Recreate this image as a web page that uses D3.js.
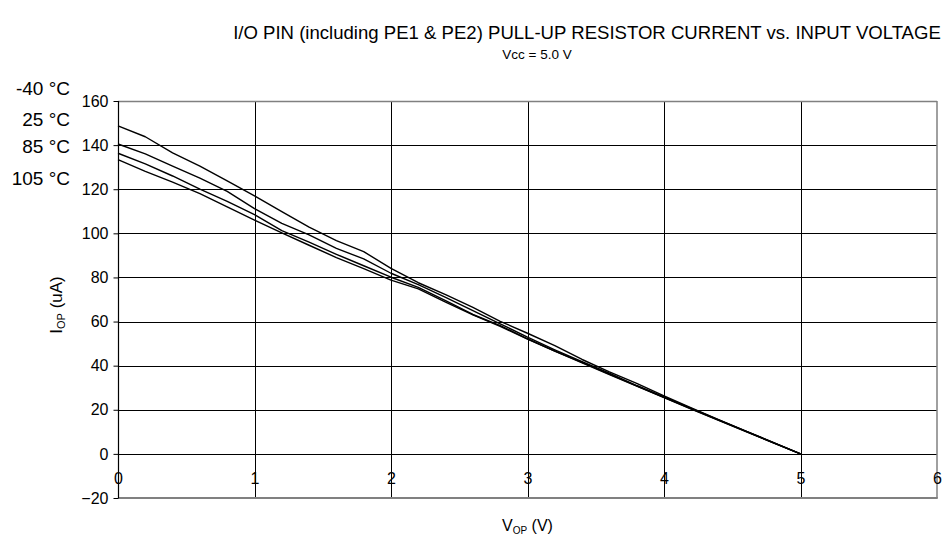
<!DOCTYPE html>
<html>
<head>
<meta charset="utf-8">
<script src="https://cdn.jsdelivr.net/npm/d3@7"></script>
<style>
  html, body { margin: 0; padding: 0; background: #fff; }
  svg { display: block; font-family: "Liberation Sans", Arial, Helvetica, sans-serif; }
</style>
</head>
<body>
<svg id="chart" width="942" height="544"></svg>
<script>
// Input voltage samples (V)
const voltage = [0, 0.2, 0.4, 0.6, 0.8, 1.0, 1.2, 1.4, 1.6, 1.8, 2.0, 2.2, 2.4, 2.6,
                 2.8, 3.0, 3.2, 3.4, 3.6, 3.8, 4.0, 4.2, 4.4, 4.6, 4.8, 5.0];

// Pull-up current (uA) per temperature
const iMinus40 = [148.7, 143.8, 136.5, 130.5, 123.8, 117.0, 109.8, 102.8, 96.7, 91.7, 84.1, 77.6, 72.2,
                  66.4, 60.1, 54.7, 49.1, 42.8, 37.2, 32.0, 26.3, 20.8, 15.5, 10.3, 5.2, 0];
const i25      = [140.5, 136.0, 130.5, 125.0, 119.0, 111.2, 104.5, 99.3, 93.2, 88.4, 81.9, 76.7, 71.0,
                  65.0, 59.0, 52.9, 47.2, 41.8, 36.6, 31.0, 25.8, 20.6, 15.4, 10.3, 5.1, 0];
const i85      = [136.3, 131.5, 126.0, 120.0, 114.5, 108.5, 101.2, 96.0, 90.5, 85.3, 80.1, 75.5, 69.5,
                  63.2, 58.2, 52.2, 46.6, 41.5, 36.2, 30.8, 25.6, 20.4, 15.3, 10.2, 5.1, 0];
const i105     = [133.4, 128.1, 123.2, 118.0, 112.0, 106.0, 100.2, 94.6, 89.0, 84.0, 78.8, 74.8, 68.8,
                  63.0, 57.8, 52.0, 46.6, 41.3, 36.0, 30.7, 25.5, 20.3, 15.2, 10.1, 5.0, 0];

const seriesLabels = ["-40 °C", "25 °C", "85 °C", "105 °C"];
const xTicks = [0, 1, 2, 3, 4, 5, 6];
const yTicks = [-20, 0, 20, 40, 60, 80, 100, 120, 140, 160];

const titleText = "I/O PIN (including PE1 & PE2) PULL-UP RESISTOR CURRENT vs. INPUT VOLTAGE";
const subtitleText = "Vcc = 5.0 V";

const svg = d3.select("#chart");
const plot = { left: 118, top: 101, right: 937, bottom: 498 };

const x = d3.scaleLinear().domain([0, 6]).range([plot.left, plot.right]);
const y = d3.scaleLinear().domain([-20, 160]).range([plot.bottom, plot.top]);

// Horizontal grid
svg.append("g")
  .selectAll("line")
  .data(yTicks.filter(t => t !== -20 && t !== 160))
  .join("line")
  .attr("x1", plot.left).attr("x2", plot.right)
  .attr("y1", d => Math.round(y(d)) + 0.5).attr("y2", d => Math.round(y(d)) + 0.5)
  .attr("stroke", "#000").attr("stroke-width", 1);

// Vertical grid
svg.append("g")
  .selectAll("line")
  .data(xTicks.filter(t => t !== 0 && t !== 6))
  .join("line")
  .attr("x1", d => Math.round(x(d)) + 0.5).attr("x2", d => Math.round(x(d)) + 0.5)
  .attr("y1", plot.top).attr("y2", plot.bottom)
  .attr("stroke", "#000").attr("stroke-width", 1);

// Plot frame: grey top, right and bottom edges, black left axis
svg.append("line")
  .attr("x1", plot.left).attr("x2", plot.right)
  .attr("y1", plot.top + 0.5).attr("y2", plot.top + 0.5)
  .attr("stroke", "#808080").attr("stroke-width", 1.5);
svg.append("line")
  .attr("x1", plot.right).attr("x2", plot.right)
  .attr("y1", plot.top).attr("y2", plot.bottom)
  .attr("stroke", "#808080").attr("stroke-width", 1.5);
svg.append("line")
  .attr("x1", plot.left).attr("x2", plot.right + 0.75)
  .attr("y1", plot.bottom).attr("y2", plot.bottom)
  .attr("stroke", "#808080").attr("stroke-width", 2);

// Left axis with ticks
const yAxis = d3.axisLeft(y).tickValues(yTicks).tickSize(5).tickPadding(5).tickFormat(d3.format("d"));
const gy = svg.append("g").attr("transform", `translate(${plot.left + 0.5},0)`).call(yAxis);
gy.select(".domain").attr("stroke", "#000").attr("stroke-width", 1.2).attr("d", `M0,${plot.top}V${plot.bottom}`);
gy.selectAll(".tick line").attr("stroke", "#000");
gy.selectAll(".tick text")
  .attr("font-size", 16).attr("fill", "#000")
  .attr("font-family", "'Liberation Sans', Arial, sans-serif");

// X tick labels sit just under the zero line
svg.append("g")
  .selectAll("text")
  .data(xTicks)
  .join("text")
  .attr("x", d => x(d) + 0.5)
  .attr("y", y(0) + 30)
  .attr("text-anchor", "middle")
  .attr("font-size", 16)
  .text(d => d);

// Curves
const seriesData = [iMinus40, i25, i85, i105];
const line = d3.line()
  .x((d, i) => x(voltage[i]))
  .y(d => y(d));

svg.append("g")
  .selectAll("path")
  .data(seriesData)
  .join("path")
  .attr("d", d => line(d))
  .attr("fill", "none")
  .attr("stroke", "#000")
  .attr("stroke-width", 1.4)
  .attr("stroke-linejoin", "round");

// Temperature labels
const labelY = [88, 119, 146, 178];
svg.append("g")
  .selectAll("text")
  .data(seriesLabels)
  .join("text")
  .attr("x", 70)
  .attr("y", (d, i) => labelY[i])
  .attr("dy", "0.35em")
  .attr("text-anchor", "end")
  .attr("font-size", 19)
  .text(d => d);

// Title, sized to span its measured width
const title = svg.append("text")
  .attr("x", 587)
  .attr("y", 39)
  .attr("text-anchor", "middle")
  .attr("font-size", 16)
  .text(titleText);
const tw = title.node().getComputedTextLength();
title.attr("font-size", 16 * 708 / tw);

svg.append("text")
  .attr("x", 537)
  .attr("y", 59)
  .attr("text-anchor", "middle")
  .attr("font-size", 13.5)
  .text(subtitleText);

// Axis titles with subscripts
const yl = svg.append("text")
  .attr("transform", `translate(62,305) rotate(-90)`)
  .attr("text-anchor", "middle")
  .attr("font-size", 17);
yl.append("tspan").text("I");
yl.append("tspan").attr("font-size", 11).attr("dy", 3).text("OP");
yl.append("tspan").attr("dy", -3).text(" (uA)");

const xl = svg.append("text")
  .attr("x", (plot.left + plot.right) / 2)
  .attr("y", 531)
  .attr("text-anchor", "middle")
  .attr("font-size", 16);
xl.append("tspan").text("V");
xl.append("tspan").attr("font-size", 10).attr("dy", 3).text("OP");
xl.append("tspan").attr("dy", -3).text(" (V)");
</script>
</body>
</html>
